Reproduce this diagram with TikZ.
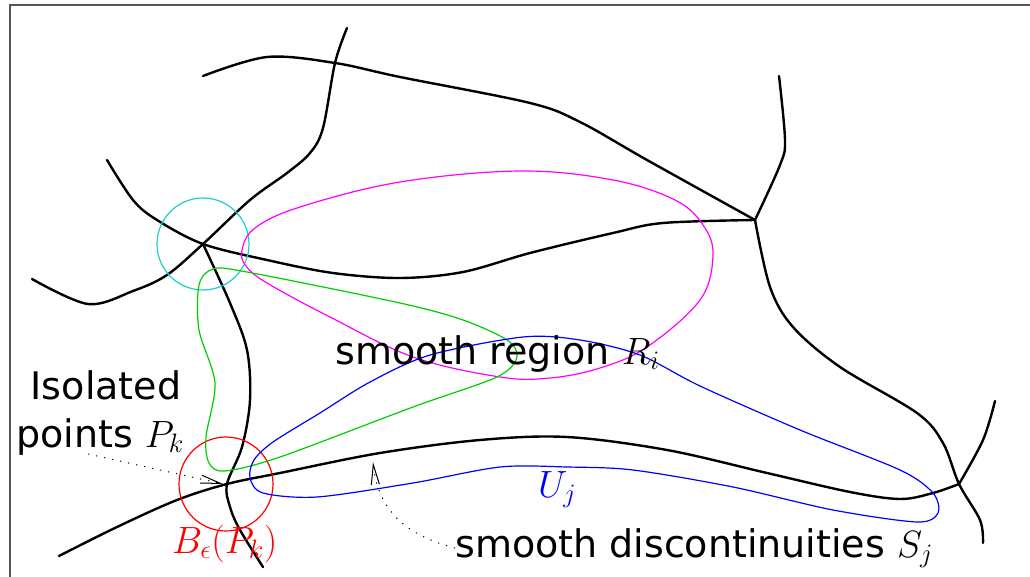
\RequirePackage{fix-cm}
\documentclass[tikz,border=0pt]{standalone}
\usepackage[no-math]{fontspec}
\setmainfont{DejaVu Sans}
\usetikzlibrary{arrows.meta}
\definecolor{cmag}{RGB}{255,0,255}
\definecolor{ccyan}{RGB}{30,205,205}
\definecolor{cgreen}{RGB}{0,205,0}
\definecolor{cblue}{RGB}{0,0,255}
\definecolor{cred}{RGB}{255,0,0}
\definecolor{cframe}{RGB}{85,85,85}
\begin{document}
\begin{tikzpicture}[x=1pt,y=-1pt,
  blk/.style={line width=2.4pt, line cap=round, line join=round},
  col/.style={line width=1.2pt},
  lbl/.style={font=\fontsize{38}{48}\selectfont, inner sep=0pt},
  pointer/.style={line width=1pt, dash pattern=on 1.2pt off 7pt, -{Straight Barb[length=20pt,width=8pt]}}
]
\useasboundingbox (0,0) rectangle (1030,577);
\draw[cframe, line width=1.4pt] (10,577) -- (10,5) -- (1030,5);

\coordinate (J1) at (203,244);
\coordinate (J2) at (755,220);
\coordinate (J3) at (227,484);
\coordinate (J4) at (959,484);

% black discontinuity curves
\draw[blk] plot[smooth, tension=0.55] coordinates {(203,76) (267,57) (335,63) (400,77) (530,103) (580,122) (647,160) (J2)};
\draw[blk] plot[smooth, tension=0.55] coordinates {(347,28) (335,63) (323,128) (310,153) (287,173) (250,200) (J1) (167,275) (133,291) (88,304) (32,279)};
\draw[blk] plot[smooth, tension=0.55] coordinates {(107,160) (133,200) (157,220) (J1) (267,260) (333,273) (400,278) (463,272) (530,253) (613,233) (663,223) (J2)};
\draw[blk] plot[smooth, tension=0.55] coordinates {(J1) (230,303) (247,350) (250,400) (242,447) (J3) (230,507) (240,530) (263,567)};
\draw[blk] plot[smooth, tension=0.55] coordinates {(59,556) (117,527) (177,500) (J3) (280,473) (380,453) (480,440) (567,437) (667,450) (767,473) (850,492) (900,499) (933,493) (J4)};
\draw[blk] plot[smooth, tension=0.55] coordinates {(J2) (770,287) (793,327) (840,367) (917,413) (943,443) (J4) (980,520) (983,543)};
\draw[blk] plot[smooth, tension=0.55] coordinates {(779,76) (785,140) (780,165) (J2)};
\draw[blk] plot[smooth, tension=0.55] coordinates {(J4) (983,440) (995,401)};

% neighbourhoods
\draw[col, ccyan] (J1) circle[radius=46];
\draw[col, cred] (226,484) circle[radius=47];

\draw[col, cmag] plot[smooth cycle, tension=0.6] coordinates {(242,250) (255,228) (300,207) (400,182) (520,171) (613,180) (675,200) (703,225) (713,255) (700,300) (647,347) (600,368) (550,378) (500,377) (413,357) (330,317) (267,283) (246,266)};

\draw[col, cgreen] plot[smooth cycle, tension=0.5] coordinates {(213,269) (247,272) (400,303) (463,320) (507,340) (517,357) (497,377) (413,407) (280,457) (225,471) (209,463) (206,437) (215,383) (199,330) (199,285)};

\draw[col, cblue] plot[smooth cycle, tension=0.5] coordinates {(523,337) (580,340) (640,355) (700,386) (800,430) (900,470) (933,493) (938,513) (917,522) (833,510) (733,487) (633,470) (567,467) (500,467) (413,483) (317,497) (263,493) (250,478) (254,460) (273,442) (320,413) (370,382) (430,355)};

% labels
\node[lbl, anchor=base west] (ri) at (335,364) {smooth region $R_i$};
\node[lbl, anchor=base] (iso) at (106,399) {Isolated};
\node[lbl, anchor=base] (pts) at (100,447) {points $P_k$};
\node[lbl, anchor=base west] (sd) at (455,557) {smooth discontinuities $S_j$};
\node[lbl, anchor=base west, text=cred] (be) at (172,553) {$B_\epsilon(P_k)$};
\node[lbl, anchor=base west, text=cblue] (uj) at (538,497) {$U_j$};

% pointers
\coordinate (pkstart) at (88,454);
\coordinate (pktip) at (223,484);
\coordinate (sjtip) at (373,462);
\draw[pointer] (pkstart) -- (pktip);
\draw[pointer] (sd.west) .. controls (405,535) and (378,510) .. (sjtip);
\end{tikzpicture}
\end{document}
